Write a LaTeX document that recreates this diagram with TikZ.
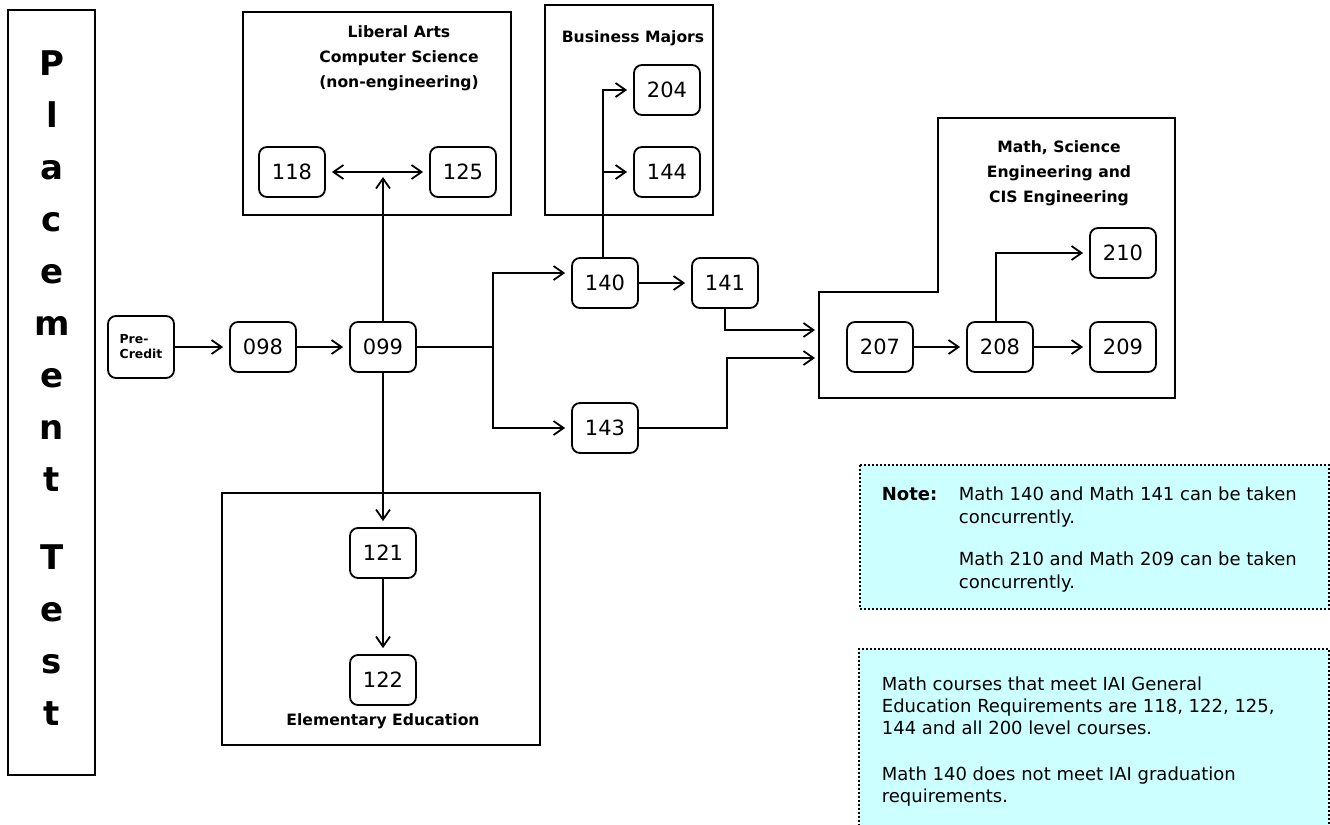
\documentclass[tikz,border=0pt]{standalone}
\usepackage{fontspec}
\setmainfont{DejaVu Sans}
\usetikzlibrary{arrows.meta}
\definecolor{notecyan}{HTML}{CCFFFF}

\begin{document}
\begin{tikzpicture}[x=0.5pt,y=-0.5pt,line width=0.9pt,
  >={Straight Barb[length=5pt,width=7pt]},
  course/.style={draw,rounded corners=4pt,minimum width=33pt,minimum height=25pt,inner sep=0pt,font=\fontsize{10.5}{12}\selectfont},
  arr/.style={->,shorten >=3pt},
  title/.style={align=center,font=\fontsize{7.8}{12.5}\selectfont\bfseries},
  notebox/.style={fill=notecyan},
  dots/.style={line width=1pt,dash pattern=on 1pt off 1pt}]
\useasboundingbox (0,0) rectangle (1330,825);

\draw (8,10) rectangle (95,775);
\node[anchor=north,inner sep=0pt,align=center,font=\fontsize{17}{26}\selectfont\bfseries] (pt) at (52,50)
  {P\\l\\a\\c\\e\\m\\e\\n\\t\\[13pt]T\\e\\s\\t};

\draw (243,12) rectangle (511,215);
\node[title] (la) at (399,58) {Liberal Arts\\Computer Science\\(non-engineering)};
\draw (545,5) rectangle (713,215);
\node[title] (bm) at (633,38) {Business Majors};
\draw (222,493) rectangle (540,745);
\node[title] (ee) at (383,721) {Elementary Education};
\draw (819,398) -- (819,292) -- (938,292) -- (938,118) -- (1175,118) -- (1175,398) -- cycle;
\node[title] (ms) at (1059,173) {Math, Science\\Engineering and\\CIS Engineering};

\node[course,minimum height=31pt,align=left,font=\fontsize{6.2}{7.5}\selectfont\bfseries] (pre) at (141,347) {Pre-\\Credit};
\node[course] (m098) at (263,347) {098};
\node[course] (m099) at (383,347) {099};
\node[course] (m118) at (292,172) {118};
\node[course] (m125) at (463,172) {125};
\node[course] (m121) at (383,553) {121};
\node[course] (m122) at (383,680) {122};
\node[course] (m140) at (605,283) {140};
\node[course] (m141) at (725,283) {141};
\node[course] (m143) at (605,428) {143};
\node[course] (m204) at (667,90) {204};
\node[course] (m144) at (667,172) {144};
\node[course] (m207) at (880,347) {207};
\node[course] (m208) at (1000,347) {208};
\node[course] (m209) at (1123,347) {209};
\node[course] (m210) at (1123,253) {210};

\coordinate (j1) at (493,347);
\coordinate (k1) at (727,358);
\coordinate (in1) at (819,330);
\coordinate (in2) at (819,358);

\draw[arr] (pre) -- (m098);
\draw[arr] (m098) -- (m099);
\draw[arr,shorten >=2.5pt] (m099) -- (m099 |- m118);
\draw[<->,shorten >=3pt,shorten <=3pt] (m118) -- (m125);
\draw[arr] (m099) -- (m121);
\draw[arr] (m121) -- (m122);
\draw (m099) -- (j1);
\draw[arr] (j1) |- ([yshift=5pt]m140.west);
\draw[arr] (j1) |- (m143);
\draw[arr] (m140) -- (m141);
\draw[arr] ([xshift=-1pt]m140.north) |- (m204);
\draw[arr] ([xshift=-1pt]m140.north |- m144) -- (m144);
\draw[arr,shorten >=2pt] (m141) |- (in1);
\draw[arr,shorten >=2pt] (m143) -| (k1) -- (in2);
\draw[arr] (m207) -- (m208);
\draw[arr] (m208) -- (m209);
\draw[arr] ([xshift=-2pt]m208.north) |- (m210);

\fill[notebox] (860,465) rectangle (1329,609);
\draw[dots] (860,465) rectangle (1329,609);
\node[anchor=north west,inner sep=0pt,font=\fontsize{9}{11.5}\selectfont\bfseries] (nt) at (881,486) {Note:};
\node[anchor=north west,inner sep=0pt,align=left,font=\fontsize{9}{11.5}\selectfont] (n1) at (958,486)
  {Math 140 and Math 141 can be taken\\concurrently.\\[9.5pt]Math 210 and Math 209 can be taken\\concurrently.};

\fill[notebox] (859,649) rectangle (1329,830);
\draw[dots] (859,830) -- (859,649) -- (1329,649) -- (1329,830);
\node[anchor=north west,inner sep=0pt,align=left,font=\fontsize{9}{11}\selectfont] (n2) at (881,676)
  {Math courses that meet IAI General\\Education Requirements are 118, 122, 125,\\144 and all 200 level courses.\\[12pt]Math 140 does not meet IAI graduation\\requirements.};
\end{tikzpicture}
\end{document}
